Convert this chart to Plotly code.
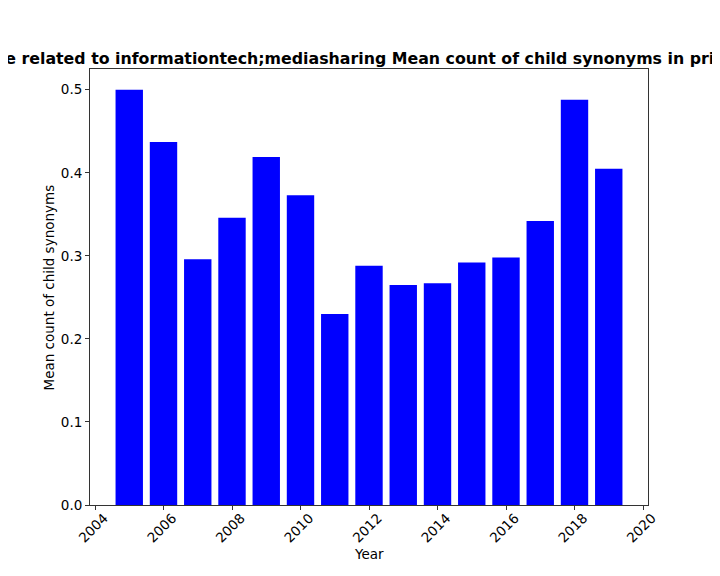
import plotly.graph_objects as go

# bar values
years = [2005, 2006, 2007, 2008, 2009, 2010, 2011, 2012, 2013, 2014, 2015, 2016, 2017, 2018, 2019]
mean_synonyms = [0.500, 0.437, 0.296, 0.346, 0.419, 0.373, 0.230, 0.288, 0.265,
                 0.267, 0.292, 0.298, 0.342, 0.488, 0.405]

x_ticks = list(range(2004, 2021, 2))
y_ticks = [0.0, 0.1, 0.2, 0.3, 0.4, 0.5]

title_text = ("Apps that are related to informationtech;mediasharing "
              "Mean count of child synonyms in primary category")

# the page puts the plot 8px in from the top-left corner, so the figure is
# 8px smaller each way and all positions are shifted by that amount
W, H, OFF = 712, 568, 8

fig = go.Figure()
fig.add_trace(go.Bar(
    x=years, y=mean_synonyms, width=0.8,
    marker=dict(color="#0000ff", line=dict(width=0)),
))

axis_common = dict(
    showline=True, linecolor="#333333", linewidth=1, mirror=True,
    ticks="outside", ticklen=4, tickcolor="#333333", tickwidth=1,
    showgrid=False, zeroline=False, automargin=False,
    tickfont=dict(family="DejaVu Sans", size=13.5, color="black"),
)

fig.update_layout(
    width=W, height=H,
    paper_bgcolor="white", plot_bgcolor="white",
    margin=dict(l=90 - OFF, r=72, t=69 - OFF, b=71),
    showlegend=False,
    font=dict(family="DejaVu Sans", color="black"),
    title=dict(
        text="<b>" + title_text + "</b>",
        x=(369 - OFF) / W, xref="container", xanchor="center",
        y=1 - (58 - OFF) / H, yref="container", yanchor="middle",
        font=dict(family="DejaVu Sans", size=15.8, color="black"),
    ),
    xaxis=dict(
        range=[2003.854, 2020.146], tickvals=x_ticks, tickangle=-45,
        ticklabelshift=9, ticklabelstandoff=-5,
        **axis_common,
    ),
    yaxis=dict(
        range=[0, 0.525], tickvals=y_ticks, tickformat=".1f",
        **axis_common,
    ),
)

# axis titles placed as annotations so they sit where matplotlib put them
fig.add_annotation(
    text="Year", xref="paper", yref="paper", x=0.5, y=-0.1135,
    xanchor="center", yanchor="middle", showarrow=False,
    font=dict(family="DejaVu Sans", size=13.5, color="black"),
)
fig.add_annotation(
    text="Mean count of child synonyms", xref="paper", yref="paper",
    x=-0.0726, y=0.5, textangle=-90,
    xanchor="center", yanchor="middle", showarrow=False,
    font=dict(family="DejaVu Sans", size=13.5, color="black"),
)

fig.write_html("out.html")
